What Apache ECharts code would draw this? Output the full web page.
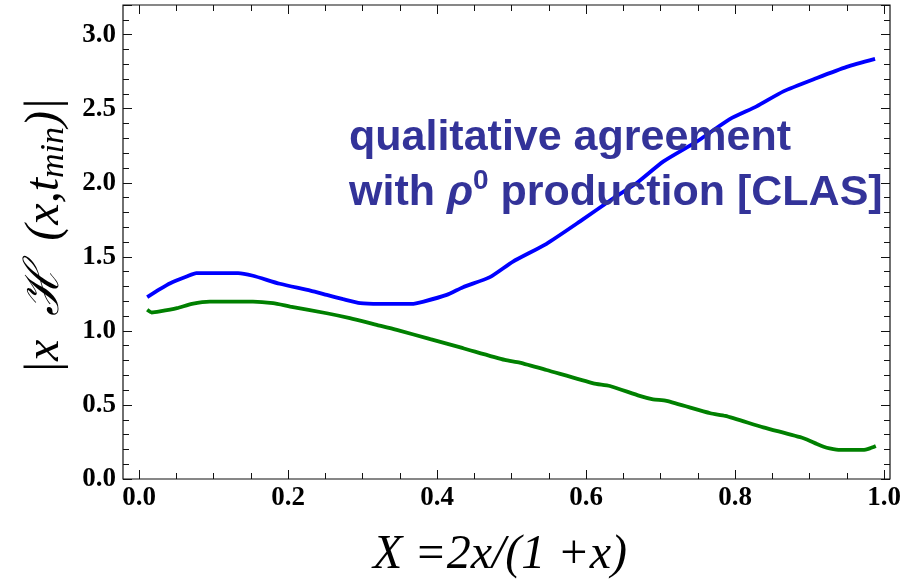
<!DOCTYPE html>
<html>
<head>
<meta charset="utf-8">
<script src="https://cdn.jsdelivr.net/npm/echarts@6/dist/echarts.min.js"></script>
<style>
html,body{margin:0;padding:0;background:#fff;}
#chart{width:904px;height:585px;}
</style>
</head>
<body>
<div id="chart"></div>
<script>
// ---- data ----
var blueX = [0.011,0.028,0.042,0.064,0.077,0.105,0.133,0.153,0.189,0.230,0.252,0.274,0.297,0.323,0.366,0.382,0.413,0.435,0.471,0.502,0.547,0.592,0.637,0.668,0.704,0.749,0.793,0.829,0.865,0.910,0.950,0.988];
var blueY = [1.228,1.282,1.322,1.367,1.390,1.390,1.390,1.372,1.318,1.272,1.243,1.214,1.187,1.182,1.182,1.198,1.243,1.295,1.363,1.468,1.588,1.739,1.896,1.998,2.144,2.279,2.430,2.516,2.617,2.707,2.782,2.836];
var greenX = [0.011,0.017,0.028,0.051,0.071,0.095,0.153,0.180,0.203,0.252,0.283,0.319,0.346,0.391,0.435,0.491,0.511,0.547,0.610,0.632,0.672,0.690,0.708,0.767,0.787,0.838,0.892,0.910,0.919,0.927,0.941,0.972,0.981,0.989];
var greenY = [1.142,1.124,1.131,1.153,1.182,1.198,1.198,1.187,1.164,1.119,1.086,1.041,1.007,0.944,0.883,0.804,0.786,0.736,0.646,0.628,0.561,0.538,0.527,0.444,0.426,0.349,0.275,0.236,0.218,0.207,0.196,0.196,0.207,0.223];
var xTickLabels = ['0.0','0.2','0.4','0.6','0.8','1.0'];
var yTickLabels = ['0.0','0.5','1.0','1.5','2.0','2.5','3.0'];
var annotLine1 = 'qualitative agreement';
var annotLine2a = 'with ';
var annotRho = 'ρ';
var annotSup = '0';
var annotLine2b = ' production [CLAS]';

function zip(a, b) { return a.map(function (v, i) { return [v, b[i]]; }); }

var tickFont = {fontFamily: 'Liberation Serif', fontWeight: 'bold', fontSize: 27, color: '#000'};
var frame = {left: 123, top: 5, width: 767, height: 474};

var chart = echarts.init(document.getElementById('chart'));
chart.setOption({
  animation: false,
  backgroundColor: '#fff',
  grid: [
    {left: frame.left, top: frame.top, width: frame.width, height: frame.height, show: true, borderColor: '#111', borderWidth: 1.2, backgroundColor: 'transparent'},
    {left: 139, top: frame.top, width: 745, height: frame.height},
    {left: frame.left, top: frame.top, width: frame.width, height: frame.height}
  ],
  xAxis: [
    {gridIndex: 0, type: 'value', min: 0, max: 1, show: false},
    {gridIndex: 1, type: 'value', min: 0, max: 1, interval: 0.2, position: 'bottom',
      axisLine: {show: false}, splitLine: {show: false},
      axisTick: {show: true, inside: true, length: 9, lineStyle: {color: '#111', width: 1}},
      minorTick: {show: true, splitNumber: 4, length: 6, lineStyle: {color: '#111', width: 1}},
      axisLabel: Object.assign({margin: 6, formatter: function (v) { return xTickLabels[Math.round(v / 0.2)]; }}, tickFont)},
    {gridIndex: 1, type: 'value', min: 0, max: 1, interval: 0.2, position: 'top',
      axisLine: {show: false}, splitLine: {show: false},
      axisTick: {show: true, inside: true, length: 9, lineStyle: {color: '#111', width: 1}},
      minorTick: {show: true, splitNumber: 4, length: 6, lineStyle: {color: '#111', width: 1}},
      axisLabel: {show: false}},
    {gridIndex: 2, type: 'value', min: 0, max: 1, show: false}
  ],
  yAxis: [
    {gridIndex: 0, type: 'value', min: 0, max: 3.2, interval: 0.5, position: 'left',
      axisLine: {show: false}, splitLine: {show: false},
      axisTick: {show: true, inside: true, length: 9, lineStyle: {color: '#111', width: 1}},
      axisLabel: Object.assign({margin: 7, formatter: function (v) { var i = Math.round(v / 0.5); return (Math.abs(v - i * 0.5) < 1e-6 && i < yTickLabels.length) ? yTickLabels[i] : ''; }}, tickFont)},
    {gridIndex: 0, type: 'value', min: 0, max: 3.2, interval: 0.5, position: 'right',
      axisLine: {show: false}, splitLine: {show: false},
      axisTick: {show: true, inside: true, length: 9, lineStyle: {color: '#111', width: 1}},
      axisLabel: {show: false}},
    {gridIndex: 1, type: 'value', min: 0, max: 3.2, show: false},
    {gridIndex: 2, type: 'value', min: 0, max: 3.2, interval: 0.1, position: 'left',
      axisLine: {show: false}, splitLine: {show: false},
      axisTick: {show: true, inside: true, length: 6, lineStyle: {color: '#111', width: 1}},
      axisLabel: {show: false}},
    {gridIndex: 2, type: 'value', min: 0, max: 3.2, interval: 0.1, position: 'right',
      axisLine: {show: false}, splitLine: {show: false},
      axisTick: {show: true, inside: true, length: 6, lineStyle: {color: '#111', width: 1}},
      axisLabel: {show: false}}
  ],
  series: [
    {type: 'line', xAxisIndex: 1, yAxisIndex: 2, data: zip(blueX, blueY), showSymbol: false, smooth: 0.2,
      lineStyle: {color: '#0000ff', width: 3.8}, itemStyle: {color: '#0000ff'}},
    {type: 'line', xAxisIndex: 1, yAxisIndex: 2, data: zip(greenX, greenY), showSymbol: false, smooth: 0.2,
      lineStyle: {color: '#008000', width: 3.8}, itemStyle: {color: '#008000'}}
  ],
  graphic: [
    {type: 'text', left: 349, top: 117, z: 100,
      style: {text: annotLine1, fontFamily: 'Liberation Sans', fontWeight: 'bold', fontSize: 43, fill: '#333399'}},
    {type: 'text', left: 349, top: 167, z: 100,
      style: {
        text: '{a|' + annotLine2a + '}{r|' + annotRho + '}{s|' + annotSup + '}{a|' + annotLine2b + '}',
        rich: {
          a: {fontFamily: 'Liberation Sans', fontWeight: 'bold', fontSize: 43, fill: '#333399'},
          r: {fontFamily: 'Liberation Sans', fontWeight: 'bold', fontStyle: 'italic', fontSize: 43, fill: '#333399'},
          s: {fontFamily: 'Liberation Sans', fontWeight: 'bold', fontSize: 28, fill: '#333399', padding: [0, 0, 24, 0]}
        }
      }},
    {type: 'text', x: 500, y: 555, z: 100,
      style: {text: 'X =2x/(1 +x)', fontFamily: 'Liberation Serif', fontStyle: 'italic', fontSize: 48, fill: '#000', align: 'center', verticalAlign: 'middle'}},
    {type: 'text', x: 45, y: 236, rotation: Math.PI / 2, z: 100,
      style: {
        text: '{a||x  ℋ  (x,t}{b|min}{a|)|}',
        align: 'center', verticalAlign: 'middle',
        rich: {
          a: {fontFamily: 'Liberation Serif', fontStyle: 'italic', fontSize: 48, fill: '#000'},
          b: {fontFamily: 'Liberation Serif', fontStyle: 'italic', fontSize: 34, fill: '#000', padding: [18, 0, 0, 0]}
        }
      }}
  ]
});
</script>
</body>
</html>
